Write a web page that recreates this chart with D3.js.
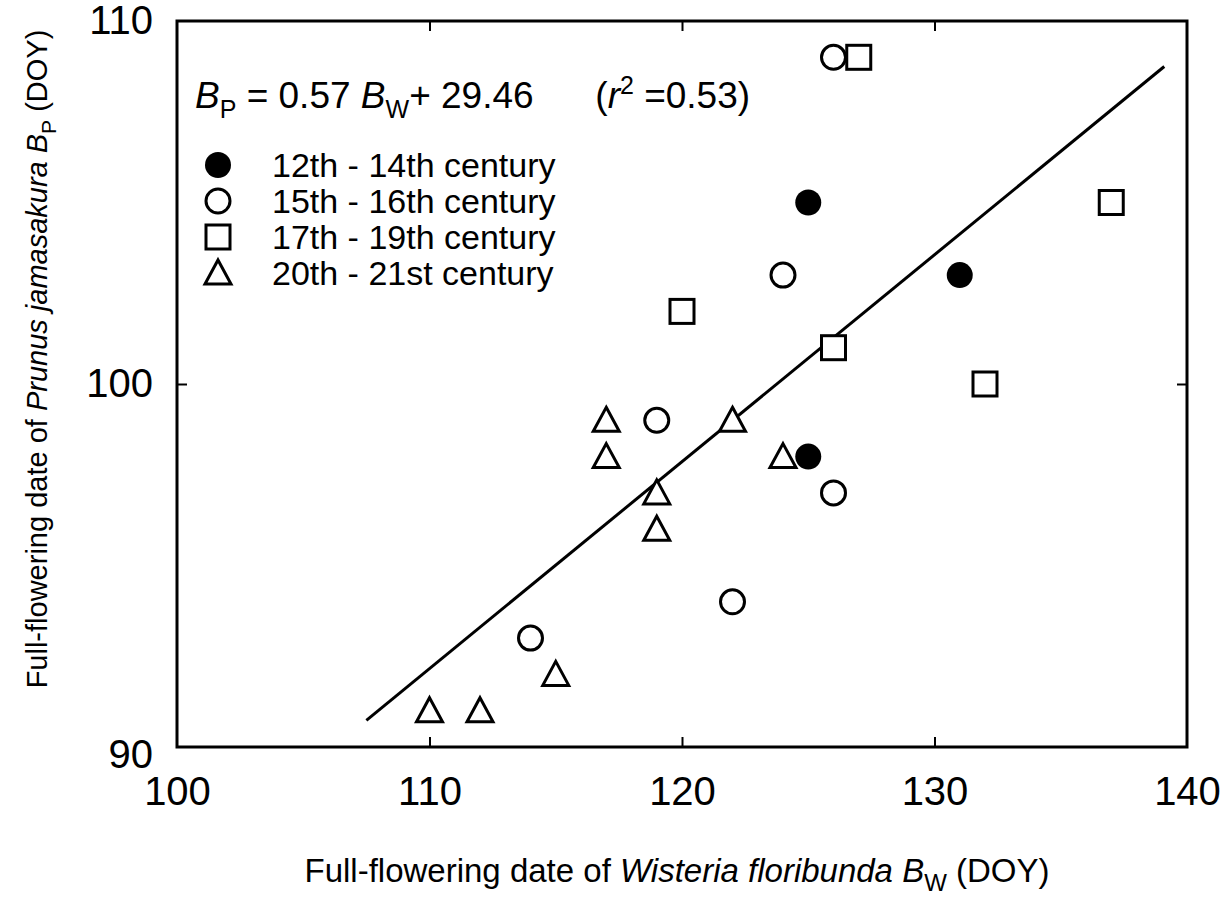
<!DOCTYPE html>
<html>
<head>
<meta charset="utf-8">
<script src="https://cdn.jsdelivr.net/npm/d3@7"></script>
<style>
  body { margin: 0; background: #fff; }
  text { font-family: "Liberation Sans", Arial, sans-serif; fill: #000; }
</style>
</head>
<body>
<div id="chart"></div>
<script>
// Data (DOY values)
var groups = ["12th - 14th century", "15th - 16th century", "17th - 19th century", "20th - 21st century"];
var shapes = ["filledCircle", "openCircle", "square", "triangle"];

var c12x = [125, 131, 125];
var c12y = [105, 103, 98];

var c15x = [126, 124, 119, 126, 122, 114];
var c15y = [109, 103, 99, 97, 94, 93];

var c17x = [127, 137, 120, 126, 132];
var c17y = [109, 105, 102, 101, 100];

var c20x = [117, 117, 122, 124, 119, 119, 115, 110, 112];
var c20y = [99, 98, 99, 98, 97, 96, 92, 91, 91];

var xTicks = [100, 110, 120, 130, 140];
var yTicks = [90, 100, 110];
var slope = 0.57, intercept = 29.46;
var fitRange = [107.5, 139.1];

var width = 1232, height = 898;
var mLeft = 177, mRight = 1187, mTop = 21, mBottom = 747;

var svg = d3.select("#chart").append("svg")
  .attr("width", width)
  .attr("height", height);

var x = d3.scaleLinear().domain([100, 140]).range([mLeft, mRight]);
var y = d3.scaleLinear().domain([90, 110]).range([mBottom, mTop]);

// Axes with inward ticks
function styleAxis(g) {
  g.select(".domain").remove();
  g.selectAll(".tick line").attr("stroke", "#000").attr("stroke-width", 2);
}

var inner = function (v) { return v > 100 && v < 140; };
var innerY = function (v) { return v > 90 && v < 110; };

// bottom: labels
svg.append("g")
  .attr("transform", "translate(0," + mBottom + ")")
  .call(d3.axisBottom(x).tickValues(xTicks).tickSizeInner(0).tickSizeOuter(0).tickPadding(30))
  .call(styleAxis)
  .selectAll("text")
  .style("font-size", "40px")
  .attr("dy", "0.71em");

// bottom + top inward tick marks
svg.append("g")
  .attr("transform", "translate(0," + mBottom + ")")
  .call(d3.axisBottom(x).tickValues(xTicks.filter(inner)).tickSizeInner(-10).tickSizeOuter(0).tickFormat(""))
  .call(styleAxis);
svg.append("g")
  .attr("transform", "translate(0," + mTop + ")")
  .call(d3.axisTop(x).tickValues(xTicks.filter(inner)).tickSizeInner(-10).tickSizeOuter(0).tickFormat(""))
  .call(styleAxis);

// left: labels
svg.append("g")
  .attr("transform", "translate(" + mLeft + ",0)")
  .call(d3.axisLeft(y).tickValues(yTicks).tickSizeInner(0).tickSizeOuter(0).tickPadding(24))
  .call(styleAxis)
  .selectAll("text")
  .style("font-size", "40px")
  .attr("dy", function (d) { return d === 90 ? "0.5em" : "0.32em"; });

// left + right inward tick marks
svg.append("g")
  .attr("transform", "translate(" + mLeft + ",0)")
  .call(d3.axisLeft(y).tickValues(yTicks.filter(innerY)).tickSizeInner(-10).tickSizeOuter(0).tickFormat(""))
  .call(styleAxis);
svg.append("g")
  .attr("transform", "translate(" + mRight + ",0)")
  .call(d3.axisRight(y).tickValues(yTicks.filter(innerY)).tickSizeInner(-10).tickSizeOuter(0).tickFormat(""))
  .call(styleAxis);

// Frame
svg.append("rect")
  .attr("x", mLeft).attr("y", mTop)
  .attr("width", mRight - mLeft).attr("height", mBottom - mTop)
  .attr("fill", "none").attr("stroke", "#000").attr("stroke-width", 3);

// Regression line
svg.append("line")
  .attr("x1", x(fitRange[0])).attr("y1", y(slope * fitRange[0] + intercept))
  .attr("x2", x(fitRange[1])).attr("y2", y(slope * fitRange[1] + intercept))
  .attr("stroke", "#000").attr("stroke-width", 3);

// Marker drawing
function drawMarker(g, shape, cx, cy) {
  if (shape === "filledCircle") {
    g.append("circle").attr("cx", cx).attr("cy", cy).attr("r", 13).attr("fill", "#000");
  } else if (shape === "openCircle") {
    g.append("circle").attr("cx", cx).attr("cy", cy).attr("r", 12)
      .attr("fill", "#fff").attr("stroke", "#000").attr("stroke-width", 3);
  } else if (shape === "square") {
    g.append("rect").attr("x", cx - 12).attr("y", cy - 12).attr("width", 24).attr("height", 24)
      .attr("fill", "#fff").attr("stroke", "#000").attr("stroke-width", 3);
  } else {
    var s = 13;
    g.append("path")
      .attr("d", "M" + cx + "," + (cy - s) + "L" + (cx + s) + "," + (cy + 11) + "L" + (cx - s) + "," + (cy + 11) + "Z")
      .attr("fill", "#fff").attr("stroke", "#000").attr("stroke-width", 3).attr("stroke-linejoin", "miter");
  }
}

var series = [
  { xs: c12x, ys: c12y },
  { xs: c15x, ys: c15y },
  { xs: c17x, ys: c17y },
  { xs: c20x, ys: c20y }
];

var pts = svg.append("g");
[3, 2, 1, 0].forEach(function (k) {
  series[k].xs.forEach(function (v, i) {
    drawMarker(pts, shapes[k], x(v), y(series[k].ys[i]));
  });
});

// Equation
var eq = svg.append("text")
  .attr("x", 195).attr("y", 108)
  .style("font-size", "37px")
  .style("white-space", "pre");
eq.append("tspan").style("font-style", "italic").text("B");
eq.append("tspan").attr("dy", 10).style("font-size", "25px").text("P");
eq.append("tspan").attr("dy", -10).text(" = 0.57 ");
eq.append("tspan").style("font-style", "italic").text("B");
eq.append("tspan").attr("dy", 10).style("font-size", "25px").text("W");
eq.append("tspan").attr("dy", -10).text("+ 29.46      (");
eq.append("tspan").style("font-style", "italic").text("r");
eq.append("tspan").attr("dy", -14).style("font-size", "25px").text("2");
eq.append("tspan").attr("dy", 14).text(" =0.53)");

// Legend
var legend = svg.append("g");
groups.forEach(function (name, i) {
  var ly = 165 + i * 36;
  drawMarker(legend, shapes[i], 218, ly);
  legend.append("text")
    .attr("x", 272).attr("y", ly)
    .attr("dy", "0.36em")
    .style("font-size", "34px")
    .text(name);
});

// X axis title
var xt = svg.append("text")
  .attr("x", 677).attr("y", 882)
  .attr("text-anchor", "middle")
  .style("font-size", "33px");
xt.append("tspan").text("Full-flowering date of ");
xt.append("tspan").style("font-style", "italic").text("Wisteria floribunda B");
xt.append("tspan").attr("dy", 9).style("font-size", "24px").text("W");
xt.append("tspan").attr("dy", -9).text(" (DOY)");

// Y axis title
var yt = svg.append("text")
  .attr("transform", "translate(47,359) rotate(-90)")
  .attr("text-anchor", "middle")
  .style("font-size", "29px");
yt.append("tspan").text("Full-flowering date of ");
yt.append("tspan").style("font-style", "italic").text("Prunus jamasakura B");
yt.append("tspan").attr("dy", 9).style("font-size", "21px").text("P");
yt.append("tspan").attr("dy", -9).text(" (DOY)");
</script>
</body>
</html>
